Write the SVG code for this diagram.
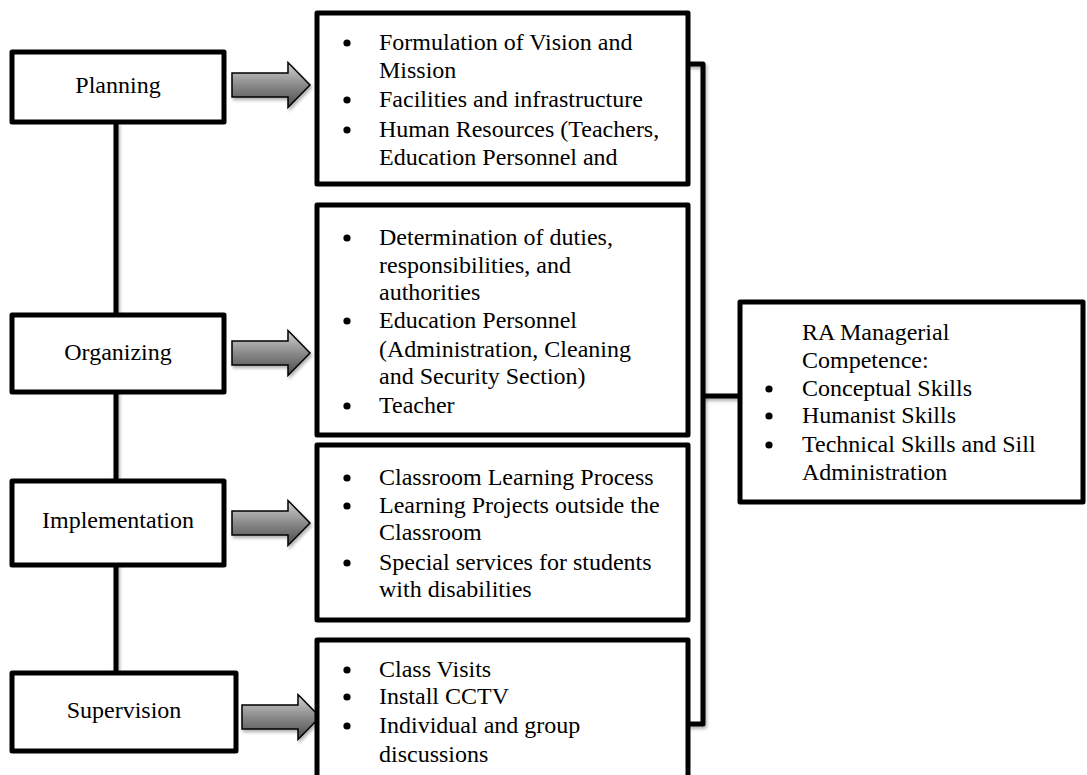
<svg xmlns="http://www.w3.org/2000/svg" width="1087" height="775" viewBox="0 0 1087 775">
<style>
  .box { fill: #ffffff; stroke: #000000; stroke-width: 5; stroke-linejoin: round; }
  .line { fill: none; stroke: #000000; stroke-width: 5; stroke-linejoin: round; }
  .t { font-family: "Liberation Serif", "Times New Roman", serif; font-size: 24px; fill: #000000; }
  .c { text-anchor: middle; }
  .dot { fill: #000000; }
  .arrow { fill: url(#ag); stroke: #000000; stroke-width: 1.5; stroke-linejoin: miter; }
</style>
<defs>
  <linearGradient id="ag" x1="0" y1="0" x2="0" y2="1">
    <stop offset="0" stop-color="#d4d4d4"/>
    <stop offset="0.5" stop-color="#8a8a8a"/>
    <stop offset="1" stop-color="#4a4a4a"/>
  </linearGradient>
  <filter id="sh" filterUnits="userSpaceOnUse" x="-100" y="-100" width="1300" height="1000">
    <feDropShadow dx="1.5" dy="2.5" stdDeviation="1.5" flood-color="#000000" flood-opacity="0.3"/>
  </filter>
  <path id="arr" d="M0,-12 L56,-12 L56,-22.5 L78,0 L56,22.5 L56,12 L0,12 Z"/>
</defs>
<rect width="1087" height="775" fill="#ffffff"/>

<g id="connectors">
  <line class="line" x1="116" y1="122" x2="116" y2="673" filter="url(#sh)"/>
  <path class="line" d="M687,64 L703,64 L703,724 L687,724" filter="url(#sh)"/>
  <line class="line" x1="703" y1="396" x2="742" y2="396" filter="url(#sh)"/>
  <use href="#arr" class="arrow" x="232" y="85" filter="url(#sh)"/>
  <use href="#arr" class="arrow" x="232" y="353" filter="url(#sh)"/>
  <use href="#arr" class="arrow" x="232" y="523" filter="url(#sh)"/>
  <use href="#arr" class="arrow" x="242" y="717" filter="url(#sh)"/>
</g>

<g id="planning">
  <rect class="box" x="12" y="52" width="212" height="70"/>
  <text class="t c" x="118" y="93">Planning</text>
</g>
<g id="organizing">
  <rect class="box" x="12" y="315" width="212" height="77"/>
  <text class="t c" x="118" y="360">Organizing</text>
</g>
<g id="implementation">
  <rect class="box" x="12" y="481" width="212" height="84"/>
  <text class="t c" x="118" y="528">Implementation</text>
</g>
<g id="supervision">
  <rect class="box" x="12" y="673" width="224" height="78"/>
  <text class="t c" x="124" y="718">Supervision</text>
</g>

<g id="planning-items">
  <rect class="box" x="317" y="13" width="371" height="171"/>
  <circle class="dot" cx="347" cy="43" r="3.6"/>
  <text class="t" x="379" y="50">Formulation of Vision and</text>
  <text class="t" x="379" y="78">Mission</text>
  <circle class="dot" cx="347" cy="100" r="3.6"/>
  <text class="t" x="379" y="107">Facilities and infrastructure</text>
  <circle class="dot" cx="347" cy="130" r="3.6"/>
  <text class="t" x="379" y="137">Human Resources (Teachers,</text>
  <text class="t" x="379" y="165">Education Personnel and</text>
</g>

<g id="organizing-items">
  <rect class="box" x="317" y="205" width="371" height="230"/>
  <circle class="dot" cx="347" cy="238" r="3.6"/>
  <text class="t" x="379" y="245">Determination of duties,</text>
  <text class="t" x="379" y="273">responsibilities, and</text>
  <text class="t" x="379" y="300">authorities</text>
  <circle class="dot" cx="347" cy="321" r="3.6"/>
  <text class="t" x="379" y="328">Education Personnel</text>
  <text class="t" x="379" y="357">(Administration, Cleaning</text>
  <text class="t" x="379" y="384">and Security Section)</text>
  <circle class="dot" cx="347" cy="406" r="3.6"/>
  <text class="t" x="379" y="413">Teacher</text>
</g>

<g id="implementation-items">
  <rect class="box" x="317" y="445" width="371" height="175"/>
  <circle class="dot" cx="347" cy="478" r="3.6"/>
  <text class="t" x="379" y="485">Classroom Learning Process</text>
  <circle class="dot" cx="347" cy="506" r="3.6"/>
  <text class="t" x="379" y="513">Learning Projects outside the</text>
  <text class="t" x="379" y="540">Classroom</text>
  <circle class="dot" cx="347" cy="563" r="3.6"/>
  <text class="t" x="379" y="570">Special services for students</text>
  <text class="t" x="379" y="597">with disabilities</text>
</g>

<g id="supervision-items">
  <rect class="box" x="317" y="640" width="371" height="160"/>
  <circle class="dot" cx="347" cy="670" r="3.6"/>
  <text class="t" x="379" y="677">Class Visits</text>
  <circle class="dot" cx="347" cy="697" r="3.6"/>
  <text class="t" x="379" y="704">Install CCTV</text>
  <circle class="dot" cx="347" cy="726" r="3.6"/>
  <text class="t" x="379" y="733">Individual and group</text>
  <text class="t" x="379" y="762">discussions</text>
</g>

<g id="ra-competence">
  <rect class="box" x="740" y="302" width="343" height="200"/>
  <text class="t" x="802" y="340">RA Managerial</text>
  <text class="t" x="802" y="368">Competence:</text>
  <circle class="dot" cx="769" cy="389" r="3.6"/>
  <text class="t" x="802" y="396">Conceptual Skills</text>
  <circle class="dot" cx="769" cy="416" r="3.6"/>
  <text class="t" x="802" y="423">Humanist Skills</text>
  <circle class="dot" cx="769" cy="445" r="3.6"/>
  <text class="t" x="802" y="452">Technical Skills and Sill</text>
  <text class="t" x="802" y="480">Administration</text>
</g>
</svg>
